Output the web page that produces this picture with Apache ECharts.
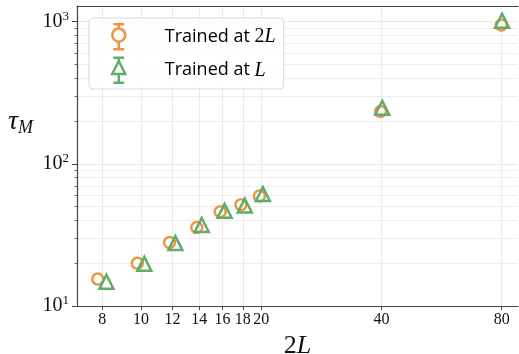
<!DOCTYPE html>
<html>
<head>
<meta charset="utf-8">
<script src="https://cdn.jsdelivr.net/npm/echarts@6/dist/echarts.min.js"></script>
<style>html,body{margin:0;padding:0;background:#fff;}#c{width:519px;height:354px;}</style>
</head>
<body>
<div id="c"></div>
<script>
// ---- data ----
const sizes2L = [8, 10, 12, 14, 16, 18, 20, 40, 80];
const tauTrained2L = [15.5, 20.0, 28.0, 35.7, 46.0, 51.5, 59.4, 233, 946];
const tauTrainedL = [14.8, 19.8, 27.7, 37.1, 46.8, 50.9, 61.3, 248, 1014];
const xTickValues = [8, 10, 12, 14, 16, 18, 20, 40, 80];
const yMajorTicks = [10, 100, 1000];
const yMinorTicks = [20, 30, 40, 50, 60, 70, 80, 90, 200, 300, 400, 500, 600, 700, 800, 900];
const seriesNames = ['Trained at 2L', 'Trained at L'];

// ---- style ----
const ORANGE = '#EF9440';
const GREEN = '#5DAE6B';
const GRID = '#e9e9e9';
const AXIS = '#444';
const SERIF = '"Liberation Serif", "DejaVu Serif", serif';
const SANS = '"Open Sans", "DejaVu Sans", sans-serif';
const JITTER = 0.2;

const xMin = 6.92, xMax = 87.9, yMin = 10, yMax = 1288;

const chart = echarts.init(document.getElementById('c'), null, {renderer: 'canvas'});

const circleIcon = 'path://M1,1 L11,1 M6,1 L6,5 M6,5 A6,6 0 1 1 6,17 A6,6 0 1 1 6,5 M6,17 L6,24 M1,24 L11,24';
const triIcon = 'path://M1,1 L11,1 M6,1 L6,4 L12,16 L0,16 L6,4 M6,16 L6,24 M1,24 L11,24';

const option = {
  animation: false,
  grid: {left: 77, top: 6, right: 1, bottom: 48, containLabel: false, outerBoundsMode: 'none'},
  xAxis: [{
    type: 'log', logBase: 10, min: xMin, max: xMax,
    name: '{n|2}{l|L}', nameLocation: 'middle', nameGap: 20,
    nameTextStyle: {rich: {
      n: {fontFamily: SERIF, fontSize: 26, color: '#111'},
      l: {fontFamily: SERIF, fontSize: 26, fontStyle: 'italic', color: '#111'}
    }},
    axisLine: {show: true, lineStyle: {color: AXIS, width: 1.2}},
    axisTick: {show: true, length: 4, customValues: xTickValues, lineStyle: {color: AXIS}},
    axisLabel: {customValues: xTickValues, fontFamily: SERIF, fontSize: 16, color: '#111', margin: 6, hideOverlap: false,
      formatter: v => String(Math.round(v))},
    splitLine: {show: true, lineStyle: {color: GRID, width: 1}},
    minorTick: {show: false}
  }, {
    type: 'log', logBase: 10, min: xMin, max: xMax, position: 'top',
    axisLine: {show: true, lineStyle: {color: AXIS, width: 1.2}},
    axisTick: {show: false}, axisLabel: {show: false}, splitLine: {show: false}
  }],
  yAxis: [{
    type: 'log', logBase: 10, min: yMin, max: yMax,
    axisLine: {show: true, lineStyle: {color: AXIS, width: 1.2}},
    axisTick: {show: true, length: 5, customValues: yMajorTicks, lineStyle: {color: AXIS}},
    axisLabel: {customValues: yMajorTicks, margin: 8, color: '#111',
      formatter: v => '{b|10}{s|' + Math.round(Math.log10(v)) + '}',
      rich: {
        b: {fontFamily: SERIF, fontSize: 20, color: '#111', lineHeight: 24},
        s: {fontFamily: SERIF, fontSize: 13, color: '#111', lineHeight: 24, padding: [0, 0, 10, 0]}
      }},
    splitLine: {show: true, lineStyle: {color: GRID, width: 1}}
  }, {
    type: 'log', logBase: 10, min: yMin, max: yMax, position: 'left',
    axisLine: {show: false},
    axisTick: {show: true, length: 2.5, customValues: yMinorTicks, lineStyle: {color: AXIS, width: 0.8}},
    axisLabel: {show: false},
    splitLine: {show: true, lineStyle: {color: GRID, width: 0.8}}
  }],
  legend: {
    orient: 'vertical', left: 89, top: 18,
    padding: [5, 8, 5, 22],
    itemGap: 6, itemWidth: 14, itemHeight: 25,
    backgroundColor: 'rgba(255,255,255,0.85)',
    borderColor: '#d9d9d9', borderWidth: 1, borderRadius: 4,
    data: [
      {name: seriesNames[0], icon: circleIcon, itemStyle: {color: 'transparent', borderColor: ORANGE, borderWidth: 2.5}},
      {name: seriesNames[1], icon: triIcon, itemStyle: {color: 'transparent', borderColor: GREEN, borderWidth: 2.5}}
    ],
    formatter: name => name === 'Trained at 2L' ? '{a|Trained at }{n|2}{l|L}' : '{a|Trained at }{l|L}',
    textStyle: {
      rich: {
        a: {fontFamily: SANS, fontSize: 18, color: '#000', padding: [0, 0, 0, 34]},
        n: {fontFamily: SERIF, fontSize: 20, color: '#000'},
        l: {fontFamily: SERIF, fontSize: 20, fontStyle: 'italic', color: '#000'}
      }
    }
  },
  graphic: [{
    type: 'text', left: 8, top: 108,
    style: {
      text: '{t|τ}{m|M}',
      rich: {
        t: {fontFamily: SERIF, fontSize: 28, fontStyle: 'italic', fill: '#111'},
        m: {fontFamily: SERIF, fontSize: 18, fontStyle: 'italic', fill: '#111', padding: [12, 0, 0, 0]}
      }
    }
  }],
  series: [{
    name: seriesNames[0], type: 'scatter', xAxisIndex: 0, yAxisIndex: 0,
    symbol: 'circle', symbolSize: 11,
    itemStyle: {color: 'transparent', borderColor: ORANGE, borderWidth: 2.5, opacity: 1},
    data: sizes2L.map((x, i) => [x - JITTER, tauTrained2L[i]]),
    z: 3
  }, {
    name: seriesNames[1], type: 'scatter', xAxisIndex: 0, yAxisIndex: 0,
    symbol: 'triangle', symbolSize: 14,
    itemStyle: {color: 'transparent', borderColor: GREEN, borderWidth: 2.5, opacity: 1},
    data: sizes2L.map((x, i) => [x + JITTER, tauTrainedL[i]]),
    z: 4
  }]
};
chart.setOption(option);
</script>
</body>
</html>
